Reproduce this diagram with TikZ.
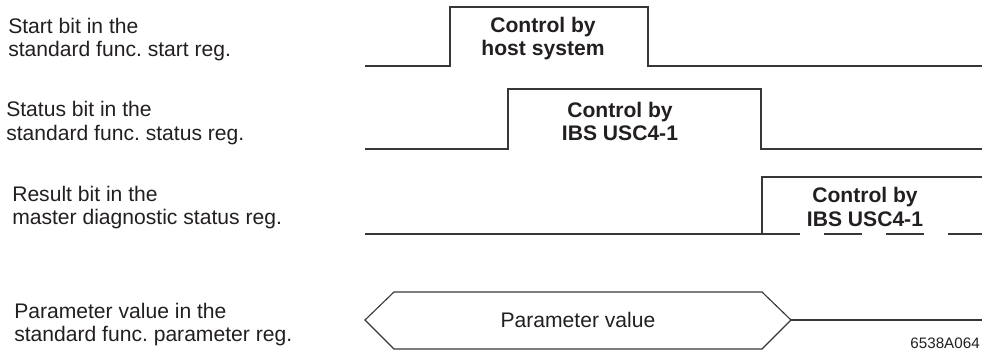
\documentclass[tikz,border=0pt]{standalone}
\usepackage{fontspec}
\setmainfont{Liberation Sans}
\usetikzlibrary{positioning, calc}
\definecolor{tinta}{RGB}{35,31,32}
\definecolor{linea}{RGB}{55,55,55}
\frenchspacing

\begin{document}
\begin{tikzpicture}[
        x=0.025cm, y=-0.025cm,
        etiqueta/.style={
            anchor=west,
            align=left,
            inner sep=0pt,
            text=tinta,
            font=\fontsize{15}{16.6}\selectfont
        },
        control/.style={
            align=center,
            inner sep=0pt,
            text=tinta,
            font=\fontsize{15}{16.6}\selectfont\bfseries
        },
        senal/.style={line width=0.8pt, draw=linea},
        intermitente/.style={senal, dash pattern=on 0.95cm off 0.6cm}
    ]
        \useasboundingbox (0,0) rectangle (982,353);

        % etiquetas de la izquierda
        \node[etiqueta] (lblStart) at (8,39.5) {Start bit in the\\standard func. start reg.};
        \node[etiqueta] (lblStatus) at (6,123) {Status bit in the\\standard func. status reg.};
        \node[etiqueta] (lblResult) at (12,207.5) {Result bit in the\\master diagnostic status reg.};
        \node[etiqueta] (lblParam) at (14,324.5) {Parameter value in the\\standard func. parameter reg.};

        % bit de arranque
        \coordinate (startA) at (365,66);
        \coordinate (startB) at (450,7);
        \coordinate (startC) at (648,66);
        \draw[senal] (startA) -| (startB) -| (startC) -- (982,66);
        \node[control] (ctlHost) at (543,38.5) {Control by\\host system};

        % bit de estado
        \coordinate (statusA) at (365,149);
        \coordinate (statusB) at (508,89);
        \coordinate (statusC) at (761,149);
        \draw[senal] (statusA) -| (statusB) -| (statusC) -- (982,149);
        \node[control] (ctlUscA) at (620,121.5) {Control by\\IBS USC4-1};

        % bit de resultado
        \coordinate (resultA) at (365,234);
        \coordinate (resultB) at (762,234);
        \coordinate (resultC) at (762,177);
        \draw[senal] (resultA) -- (resultB) -- (resultC) -- (982,177);
        \draw[intermitente] (resultB) -- (982,234);
        \node[control] (ctlUscB) at (865,207) {Control by\\IBS USC4-1};

        % valor del parametro
        \coordinate (busL) at (365,320);
        \coordinate (busR) at (791,320);
        \draw[senal] (busL) -- (394,292) -- (762,292) -- (busR) -- (762,349) -- (394,349) -- cycle;
        \draw[senal] (busR) -- (982,320);
        \node[text=tinta, font=\fontsize{15}{16.6}\selectfont, inner sep=0pt] (valor)
            at ($(busL)!0.5!(busR)$) {Parameter value};

        \node[anchor=east, inner sep=0pt, text=tinta, font=\fontsize{10.8}{12}\selectfont] (codigo)
            at (980,343) {6538A064};
    \end{tikzpicture}
\end{document}
